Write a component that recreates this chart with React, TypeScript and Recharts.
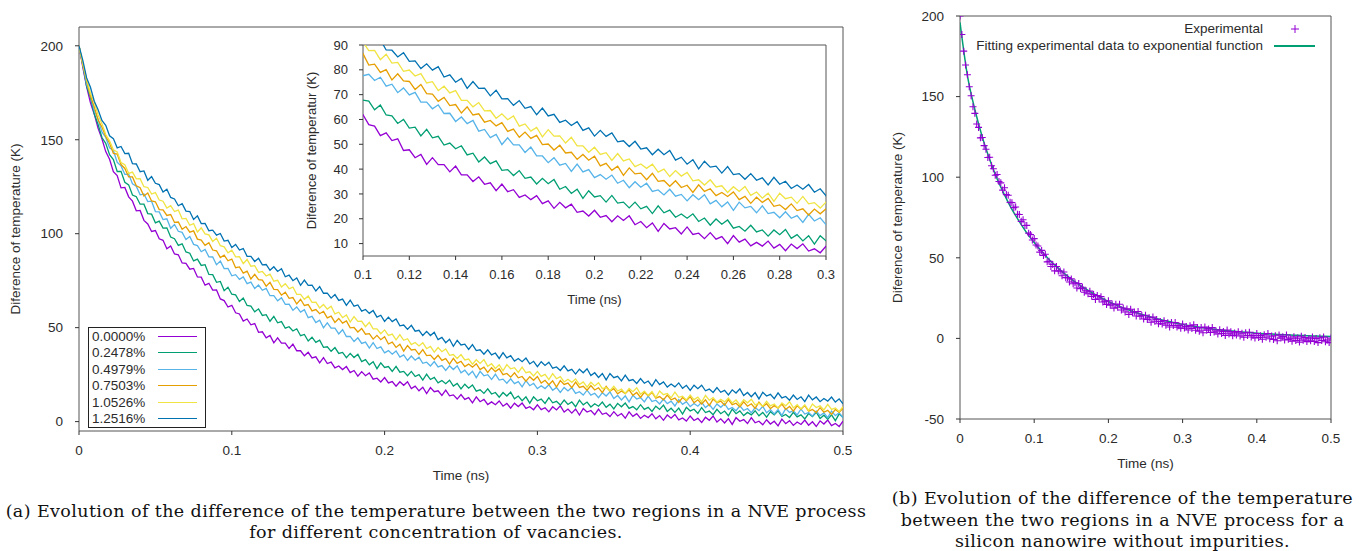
import React from "react";
import {
  LineChart,
  ComposedChart,
  Line,
  Scatter,
  XAxis,
  YAxis,
  ReferenceArea,
  Legend,
} from "recharts";

// Time (ns), one sample every 0.0025 ns
const time = [
  0, 0.0025, 0.005, 0.0075, 0.01, 0.0125, 0.015, 0.0175, 0.02, 0.0225, 0.025, 0.0275, 0.03, 0.0325, 0.035, 0.0375, 0.04, 0.0425, 0.045, 0.0475,
  0.05, 0.0525, 0.055, 0.0575, 0.06, 0.0625, 0.065, 0.0675, 0.07, 0.0725, 0.075, 0.0775, 0.08, 0.0825, 0.085, 0.0875, 0.09, 0.0925, 0.095, 0.0975,
  0.1, 0.1025, 0.105, 0.1075, 0.11, 0.1125, 0.115, 0.1175, 0.12, 0.1225, 0.125, 0.1275, 0.13, 0.1325, 0.135, 0.1375, 0.14, 0.1425, 0.145, 0.1475,
  0.15, 0.1525, 0.155, 0.1575, 0.16, 0.1625, 0.165, 0.1675, 0.17, 0.1725, 0.175, 0.1775, 0.18, 0.1825, 0.185, 0.1875, 0.19, 0.1925, 0.195, 0.1975,
  0.2, 0.2025, 0.205, 0.2075, 0.21, 0.2125, 0.215, 0.2175, 0.22, 0.2225, 0.225, 0.2275, 0.23, 0.2325, 0.235, 0.2375, 0.24, 0.2425, 0.245, 0.2475,
  0.25, 0.2525, 0.255, 0.2575, 0.26, 0.2625, 0.265, 0.2675, 0.27, 0.2725, 0.275, 0.2775, 0.28, 0.2825, 0.285, 0.2875, 0.29, 0.2925, 0.295, 0.2975,
  0.3, 0.3025, 0.305, 0.3075, 0.31, 0.3125, 0.315, 0.3175, 0.32, 0.3225, 0.325, 0.3275, 0.33, 0.3325, 0.335, 0.3375, 0.34, 0.3425, 0.345, 0.3475,
  0.35, 0.3525, 0.355, 0.3575, 0.36, 0.3625, 0.365, 0.3675, 0.37, 0.3725, 0.375, 0.3775, 0.38, 0.3825, 0.385, 0.3875, 0.39, 0.3925, 0.395, 0.3975,
  0.4, 0.4025, 0.405, 0.4075, 0.41, 0.4125, 0.415, 0.4175, 0.42, 0.4225, 0.425, 0.4275, 0.43, 0.4325, 0.435, 0.4375, 0.44, 0.4425, 0.445, 0.4475,
  0.45, 0.4525, 0.455, 0.4575, 0.46, 0.4625, 0.465, 0.4675, 0.47, 0.4725, 0.475, 0.4775, 0.48, 0.4825, 0.485, 0.4875, 0.49, 0.4925, 0.495, 0.4975,
  0.5,
];

// temperature difference (K) for each vacancy concentration
const vac0000 = [
  200, 188.5, 178.2, 169.6, 163.6, 156.1, 150.5, 143.7, 139.6, 133, 130.9, 124.4, 124.6, 119.6, 117.3, 112.2, 112.4, 107.1, 105.2, 101.2,
  101.7, 97.3, 96.5, 92, 93.5, 89.2, 88.8, 84.4, 84.2, 81.1, 81.5, 77, 76.9, 72.6, 73.6, 70, 70.1, 65.3, 64.4, 61,
  61.9, 57.9, 57.3, 53.5, 54.6, 51.5, 52.2, 47.5, 47.8, 44.6, 45.9, 41.9, 44.6, 41.8, 41.8, 38.9, 41.2, 37.7, 37.7, 35,
  36.9, 33.9, 34.5, 31.3, 34, 30.9, 31.7, 28.6, 29.6, 27.7, 29.3, 26.1, 27.2, 24.2, 26.6, 24.4, 25.9, 22.6, 23.1, 21.1,
  23.4, 20.6, 21.3, 18.8, 21.2, 19.3, 21.2, 17.6, 18.9, 16.4, 18.3, 14.9, 18.1, 15.9, 16.4, 13.9, 16.7, 13.7, 14.2, 12,
  14.4, 11.8, 12.8, 10, 13.2, 10.6, 11.8, 9.1, 10.5, 9, 11, 8.2, 9.7, 7.1, 9.8, 8, 9.9, 7, 7.9, 6.3,
  8.9, 6.4, 7.4, 5.2, 7.9, 6.2, 8.4, 5.1, 6.7, 4.5, 6.7, 3.5, 7, 5.1, 5.9, 3.7, 6.7, 3.9, 4.6, 2.7,
  5.3, 3, 4.3, 1.8, 5.2, 2.8, 4.2, 1.7, 3.4, 2.1, 4.2, 1.5, 3.2, 0.7, 3.5, 1.8, 3.8, 0.9, 1.9, 0.3,
  3, 0.6, 1.7, -0.5, 2.3, 0.7, 3, -0.2, 1.5, -0.7, 1.6, -1.5, 2.1, 0.2, 1.1, -1, 2.1, -0.6, 0.2, -1.7,
  1, -1.3, 0.2, -2.3, 1.3, -1.1, 0.5, -2, -0.2, -1.5, 0.8, -1.9, -0.1, -2.6, 0.4, -1.3, 0.8, -2.1, -1, -2.6,
  0.2,
];
const vac2478 = [
  200, 189.9, 178.4, 172.5, 163.7, 158.1, 151.2, 148.1, 142, 139.5, 133.1, 133.2, 127.4, 126, 120.6, 119.7, 115.7, 115.7, 110.7, 110.4,
  105.8, 106.7, 103, 103.1, 98.2, 97.3, 93.8, 94.6, 90.3, 89.6, 85.5, 86.5, 83.1, 83.5, 78.3, 78.2, 74.1, 74.6, 69.7, 71.5,
  67.8, 67.4, 63.9, 65.8, 61.8, 61.5, 58.4, 60, 56.5, 56.9, 53.4, 56, 52.6, 53.2, 49.7, 50.5, 48.2, 49.4, 45.7, 46.4,
  42.9, 44.9, 42.2, 43.3, 39.5, 39.8, 37.4, 39.4, 36.3, 36.8, 34, 36.3, 34.1, 35.8, 31.9, 33, 30.2, 31.9, 28.2, 31.3,
  28.8, 29.3, 26.7, 29.4, 26.3, 26.7, 24.4, 26.7, 24, 25, 22.1, 25.2, 22.4, 23.5, 20.6, 21.9, 20.2, 22, 18.9, 20.3,
  17.4, 19.9, 17.8, 19.5, 16.2, 16.9, 15, 17.4, 14.7, 15.5, 13, 15.5, 13.6, 15.7, 12.1, 13.6, 11.1, 13.2, 9.8, 13.2,
  11.1, 12, 9.7, 12.8, 10, 10.8, 8.8, 11.5, 9.1, 10.5, 7.9, 11.4, 8.9, 10.4, 7.8, 9.5, 8.2, 10.4, 7.6, 9.3,
  6.8, 9.7, 7.9, 9.9, 7, 8, 6.3, 9, 6.5, 7.6, 5.4, 8.2, 6.5, 8.8, 5.4, 7.1, 4.9, 7.2, 4, 7.6,
  5.7, 6.6, 4.4, 7.5, 4.8, 5.6, 3.7, 6.5, 4.2, 5.6, 3.1, 6.6, 4.2, 5.7, 3.2, 4.9, 3.6, 5.8, 3.1, 4.9,
  2.4, 5.3, 3.6, 5.7, 2.8, 3.8, 2.2, 4.9, 2.5, 3.6, 1.4, 4.3, 2.7, 5, 1.7, 3.4, 1.2, 3.6, 0.5, 4.1,
  2.2,
];
const vac4979 = [
  200, 190.2, 179.6, 173.8, 165.5, 160.9, 154.2, 151.2, 145.7, 144.3, 138, 136.1, 131.6, 131.7, 126.6, 125.3, 120.7, 121.1, 117.1, 117.3,
  111.8, 111.6, 107.5, 107.9, 102.9, 104.9, 101.3, 100.7, 96.9, 98.5, 94.3, 93.7, 90.4, 91.6, 87.7, 87.6, 83.5, 85.4, 81.4, 81.5,
  77.6, 78.2, 75.7, 77, 73.4, 74.2, 70.8, 72.7, 69.9, 70.9, 67, 67, 64.3, 65.9, 62.4, 62.5, 59.2, 61, 58.3, 59.6,
  55.3, 56, 52.7, 54, 49.9, 52.6, 49.8, 49.8, 46.7, 48.9, 45.3, 45.3, 42.6, 44.6, 41.6, 42.3, 39.1, 42, 38.9, 39.8,
  36.6, 37.8, 35.9, 37.6, 34.3, 35.5, 32.5, 34.9, 32.7, 34.3, 31, 31.6, 29.6, 31.9, 29.1, 29.8, 27.2, 29.7, 27.7, 29.7,
  26, 27.4, 24.8, 26.8, 23.4, 26.7, 24.4, 25, 22.4, 25.2, 22.1, 22.6, 20.4, 22.8, 20.2, 21.3, 18.5, 21.8, 19.1, 20.4,
  17.6, 19.1, 17.6, 19.6, 16.7, 18.2, 15.5, 18.2, 16.3, 18.1, 15, 15.9, 14.1, 16.7, 14.1, 15.1, 12.7, 15.4, 13.6, 15.8,
  12.3, 13.9, 11.5, 13.7, 10.5, 14, 12, 12.8, 10.5, 13.5, 10.7, 11.4, 9.4, 12, 9.6, 10.9, 8.3, 11.7, 9.2, 10.6,
  8, 9.6, 8.2, 10.3, 7.5, 9.1, 6.5, 9.4, 7.6, 9.5, 6.5, 7.5, 5.8, 8.4, 5.9, 7, 4.7, 7.5, 5.8, 8.1,
  4.7, 6.4, 4.1, 6.4, 3.3, 6.9, 4.9, 5.8, 3.6, 6.7, 4, 4.8, 2.9, 5.6, 3.2, 4.6, 2.1, 5.6, 3.2, 4.7,
  2.2,
];
const vac7503 = [
  200, 189.9, 181.3, 173.3, 167.5, 160.5, 156.8, 151.7, 148.3, 142.7, 142.4, 136.8, 134.7, 130.2, 130.2, 125.5, 124.5, 120.1, 121.7, 117.4,
  117, 112.8, 112.7, 109.7, 110.2, 106, 106.2, 102.3, 103.8, 100.8, 101.5, 97.1, 96.6, 93.8, 95.2, 91.3, 90.9, 87.3, 88.6, 85.6,
  86.5, 81.9, 82.3, 79, 80.1, 75.9, 78.4, 75.5, 75.3, 72.1, 74.1, 70.4, 70.2, 67.3, 68.9, 65.6, 66, 62.6, 65.1, 61.8,
  62.3, 58.9, 59.6, 57.4, 58.7, 55.2, 56.1, 52.8, 54.9, 52.4, 53.6, 49.9, 50.1, 47.7, 49.6, 46.5, 46.8, 43.9, 45.9, 43.6,
  45.2, 41.3, 42.3, 39.5, 41.2, 37.5, 40.5, 38.1, 38.4, 35.7, 38.3, 35.1, 35.4, 33.1, 35.3, 32.6, 33.5, 30.6, 33.7, 31,
  32.1, 29.3, 30.6, 29, 30.8, 27.7, 29, 26.2, 28.7, 26.6, 28.2, 25, 25.6, 23.7, 26, 23.3, 24, 21.5, 23.9, 22,
  24, 20.5, 22, 19.6, 21.7, 18.4, 21.8, 19.8, 20.5, 18.1, 21, 18.2, 18.8, 16.7, 19.2, 16.8, 18, 15.4, 18.7, 16.2,
  17.5, 14.8, 16.3, 14.9, 16.9, 14, 15.5, 12.9, 15.6, 13.7, 15.5, 12.5, 13.3, 11.6, 14.1, 11.6, 12.5, 10.2, 12.8, 11.1,
  13.3, 10, 11.6, 9.4, 11.6, 8.5, 12, 10.1, 10.9, 8.7, 11.7, 9, 9.8, 7.9, 10.5, 8.2, 9.5, 7, 10.4, 8,
  9.5, 6.9, 8.5, 7.2, 9.3, 6.5, 8.1, 5.6, 8.4, 6.6, 8.5, 5.6, 6.5, 4.8, 7.4, 5, 6, 3.8, 6.5, 4.9,
  7.1,
];
const vac10526 = [
  200, 190.5, 182.3, 174.6, 169.9, 163.2, 158.5, 152.8, 149.4, 144.7, 143.5, 137.9, 136.7, 132.1, 132.8, 129.2, 129.3, 125, 124.6, 121.1,
  121.9, 117.9, 117.3, 113.6, 114.9, 111.8, 112.6, 107.9, 108.1, 104.5, 105.4, 100.9, 103.1, 99.9, 99.4, 95.9, 97.6, 93.6, 93, 89.8,
  91.2, 87.7, 87.8, 84.1, 86.3, 82.7, 83, 79.4, 79.9, 77.5, 78.5, 74.7, 75.2, 71.6, 73.4, 70.7, 71.6, 67.7, 67.7, 65.1,
  66.8, 63.5, 63.6, 60.5, 62.3, 59.9, 61.4, 57.3, 58.2, 55.3, 56.8, 53, 55.9, 53.3, 53.4, 50.5, 52.8, 49.4, 49.4, 46.8,
  48.8, 45.9, 46.6, 43.5, 46.3, 43.3, 44.1, 41, 42.1, 40.3, 42, 38.8, 40, 37, 39.4, 37.2, 38.7, 35.3, 35.7, 33.6,
  35.7, 32.8, 33.3, 30.6, 32.9, 31, 33, 29.4, 30.8, 28.3, 30.3, 27, 30.3, 28.1, 28.7, 26.2, 29, 26, 26.5, 24.3,
  26.7, 24.1, 25.1, 22.3, 25.5, 22.8, 23.9, 21.1, 22.5, 20.9, 22.7, 19.7, 21.1, 18.3, 20.9, 19, 20.7, 17.5, 18.2, 16.4,
  18.8, 16.3, 17.3, 15, 17.6, 15.9, 18, 14.6, 16.2, 13.9, 16, 12.8, 16.3, 14.3, 15, 12.7, 15.7, 12.9, 13.5, 11.5,
  14.1, 11.7, 13, 10.5, 13.9, 11.4, 12.8, 10.3, 11.9, 10.5, 12.6, 9.9, 11.5, 8.9, 11.7, 10, 11.9, 8.9, 9.8, 8.2,
  10.8, 8.4, 9.4, 7.2, 10, 8.4, 10.6, 7.3, 9, 6.8, 9, 5.9, 9.4, 7.5, 8.4, 6.2, 9.2, 6.5, 7.3, 5.4,
  8,
];
const vac12516 = [
  200, 192.2, 182.9, 177.9, 170.5, 166, 160.3, 157.7, 152.1, 150.6, 145.7, 146.4, 142.6, 142.8, 137.3, 137.1, 133, 133.4, 128.4, 130.4,
  126.8, 126.1, 122.2, 123.7, 119.3, 118.5, 114.9, 116, 112, 111.8, 107.6, 109.5, 105.4, 105.5, 101.6, 101.9, 99.2, 100.1, 96.1, 96.5,
  92.6, 94.3, 91.3, 92.1, 88, 87.9, 85.2, 86.9, 83.4, 83.6, 80.5, 82.4, 79.9, 81.3, 77.1, 78, 75, 76.5, 72.5, 75.3,
  72.5, 72.6, 69.5, 71.8, 68.3, 68.4, 65.7, 67.6, 64.5, 65.2, 61.9, 64.6, 61.4, 62.1, 58.8, 59.7, 57.6, 59.1, 55.6, 56.6,
  53.3, 55.6, 53.2, 54.6, 51, 51.4, 49.1, 51.2, 48.1, 48.6, 45.8, 48, 45.8, 47.5, 43.6, 44.8, 42, 43.8, 40.1, 43.2,
  40.8, 41.2, 38.4, 41, 37.8, 38.2, 35.9, 38.2, 35.5, 36.5, 33.6, 36.7, 33.9, 35.1, 32.2, 33.6, 31.9, 33.8, 30.7, 32.1,
  29.3, 31.9, 29.9, 31.6, 28.4, 29.1, 27.2, 29.7, 27, 27.8, 25.3, 27.9, 26, 28.1, 24.5, 26, 23.5, 25.6, 22.2, 25.6,
  23.4, 24.1, 21.7, 24.7, 21.8, 22.4, 20.3, 22.9, 20.4, 21.6, 18.9, 22.3, 19.7, 21.1, 18.4, 20, 18.5, 20.6, 17.7, 19.3,
  16.6, 19.4, 17.5, 19.4, 16.4, 17.3, 15.5, 18.1, 15.6, 16.6, 14.2, 16.9, 15.2, 17.4, 13.9, 15.5, 13.2, 15.4, 12.1, 15.6,
  13.6, 14.5, 12.2, 15.3, 12.6, 13.4, 11.4, 14.1, 11.8, 13.2, 10.6, 14.1, 11.6, 13.1, 10.6, 12.3, 10.9, 13.1, 10.4, 12.1,
  9.5,
];

// exponential fit shown in panel (b), one value every 0.01 ns
const fitTime = [
  0, 0.01, 0.02, 0.03, 0.04, 0.05, 0.06, 0.07, 0.08, 0.09,
  0.1, 0.11, 0.12, 0.13, 0.14, 0.15, 0.16, 0.17, 0.18, 0.19,
  0.2, 0.21, 0.22, 0.23, 0.24, 0.25, 0.26, 0.27, 0.28, 0.29,
  0.3, 0.31, 0.32, 0.33, 0.34, 0.35, 0.36, 0.37, 0.38, 0.39,
  0.4, 0.41, 0.42, 0.43, 0.44, 0.45, 0.46, 0.47, 0.48, 0.49,
  0.5,
];
const fitValues = [
  196, 163, 142, 125, 111, 99, 89, 80, 72.5, 65.5,
  59.5, 54, 49, 44.5, 40.5, 36.8, 33.5, 30.5, 27.7, 25.2,
  22.9, 20.8, 18.9, 17.2, 15.6, 14.2, 12.9, 11.7, 10.6, 9.6,
  8.7, 7.9, 7.2, 6.5, 5.9, 5.3, 4.8, 4.4, 4.0, 3.6,
  3.2, 2.9, 2.7, 2.4, 2.2, 2.0, 1.8, 1.6, 1.5, 1.3,
  1.2,
];

const seriesNames = ["0.0000%", "0.2478%", "0.4979%", "0.7503%", "1.0526%", "1.2516%"];
const seriesColors = ["#9400D3", "#009E73", "#56B4E9", "#E69F00", "#F0E442", "#0072B2"];
const seriesKeys = ["s0", "s1", "s2", "s3", "s4", "s5"];

const mainTicksX = [0, 0.1, 0.2, 0.3, 0.4, 0.5];
const mainTicksY = [0, 50, 100, 150, 200];
const insetTicksX = [0.1, 0.12, 0.14, 0.16, 0.18, 0.2, 0.22, 0.24, 0.26, 0.28, 0.3];
const insetTicksY = [10, 20, 30, 40, 50, 60, 70, 80, 90];
const fitTicksY = [-50, 0, 50, 100, 150, 200];

const rows = time.map((t, i) => ({
  t,
  s0: vac0000[i],
  s1: vac2478[i],
  s2: vac4979[i],
  s3: vac7503[i],
  s4: vac10526[i],
  s5: vac12516[i],
}));
const expRows = time.map((t, i) => ({ t, v: vac0000[i] }));
const fitRows = fitTime.map((t, i) => ({ t, v: fitValues[i] }));

const SANS = "'Liberation Sans', Arial, sans-serif";
const SERIF = "'DejaVu Serif', 'Liberation Serif', serif";
const INK = "#2b2b2b";
const tickStyle = { fill: INK, fontSize: 13.5, fontFamily: SANS };
const insetTick = { fill: INK, fontSize: 13, fontFamily: SANS };
const titleProps = { fill: INK, fontSize: 13.5, fontFamily: SANS };

function VacancyLegend(props: any) {
  const items = props.payload || [];
  return (
    <div
      style={{
        border: "1px solid #222",
        background: "#fff",
        padding: "0 8px 0 3px",
        boxSizing: "border-box",
        width: 118,
        fontFamily: SANS,
      }}
    >
      {items.map((item: any) => (
        <div
          key={item.value}
          style={{ display: "flex", alignItems: "center", height: 16.5, fontSize: 13.5, color: INK }}
        >
          <span style={{ flex: 1 }}>{item.value}</span>
          <span style={{ display: "inline-block", width: 39, borderTop: `1.5px solid ${item.color}` }} />
        </div>
      ))}
    </div>
  );
}

function FitLegend(props: any) {
  const items = props.payload || [];
  return (
    <div style={{ width: 380, fontFamily: SANS }}>
      {items.map((item: any) => (
        <div
          key={item.value}
          style={{
            display: "flex",
            justifyContent: "flex-end",
            alignItems: "center",
            height: 17,
            fontSize: 13.5,
            color: INK,
          }}
        >
          <span>{item.value}</span>
          <span style={{ width: 41, marginLeft: 11, display: "flex", justifyContent: "center" }}>
            {item.type === "cross" ? (
              <svg width={8} height={8}>
                <path d="M0,4h8M4,0v8" stroke={item.color} strokeWidth={1} />
              </svg>
            ) : (
              <span style={{ display: "inline-block", width: 41, borderTop: `2px solid ${item.color}` }} />
            )}
          </span>
        </div>
      ))}
    </div>
  );
}

// "+" point marker, like gnuplot's default point type
function PlusMark(props: any) {
  const { cx, cy } = props;
  if (cx == null || cy == null) return null;
  return <path d={`M${cx - 3.5},${cy}h7M${cx},${cy - 3.5}v7`} stroke="#9400D3" strokeWidth={1.1} fill="none" />;
}

export default function App() {
  return (
    <div
      style={{
        position: "relative",
        width: 1365,
        height: 551,
        background: "#fff",
        overflow: "hidden",
        fontFamily: SANS,
      }}
    >
      <style>{"body{margin:0}"}</style>

      {/* (a) main panel */}
      <div style={{ position: "absolute", left: 0, top: 0 }}>
        <LineChart width={860} height={490} data={rows} margin={{ top: 27, right: 17, left: 0, bottom: 29 }}>
          <XAxis
            dataKey="t"
            type="number"
            domain={[0, 0.5]}
            allowDataOverflow
            ticks={mainTicksX}
            tick={tickStyle}
            tickSize={4}
            tickMargin={10}
            tickLine={{ stroke: "#333" }}
            axisLine={false}
            height={30}
            label={{ value: "Time (ns)", position: "bottom", offset: 9, ...titleProps }}
          />
          <YAxis
            type="number"
            domain={[-5, 210]}
            allowDataOverflow
            ticks={mainTicksY}
            tick={tickStyle}
            tickSize={4}
            tickMargin={12}
            tickLine={{ stroke: "#333" }}
            axisLine={false}
            width={79}
            label={{
              value: "Diference of temperature (K)",
              angle: -90,
              position: "insideLeft",
              offset: 15,
              style: { textAnchor: "middle" },
              ...titleProps,
            }}
          />
          <ReferenceArea x1={0} x2={0.5} y1={-5} y2={210} fill="none" stroke="#555" strokeWidth={1} ifOverflow="visible" />
          {seriesKeys.map((k, i) => (
            <Line
              key={k}
              type="linear"
              dataKey={k}
              name={seriesNames[i]}
              stroke={seriesColors[i]}
              strokeWidth={1.3}
              dot={false}
              isAnimationActive={false}
            />
          ))}
          <Legend
            layout="vertical"
            align="center"
            verticalAlign="middle"
            content={<VacancyLegend />}
            wrapperStyle={{ left: 88, top: 327, width: 118 }}
          />
        </LineChart>
      </div>

      {/* (a) inset: zoom on 0.1 - 0.3 ns */}
      <div style={{ position: "absolute", left: 290, top: 30 }}>
        <LineChart width={545} height={290} data={rows} margin={{ top: 15, right: 9, left: 0, bottom: 34 }}>
          <XAxis
            dataKey="t"
            type="number"
            domain={[0.1, 0.3]}
            allowDataOverflow
            ticks={insetTicksX}
            tick={insetTick}
            tickSize={4}
            tickMargin={10}
            tickLine={{ stroke: "#333" }}
            axisLine={false}
            height={30}
            label={{ value: "Time (ns)", position: "bottom", offset: 9, ...titleProps, fontSize: 13 }}
          />
          <YAxis
            type="number"
            domain={[5, 90]}
            allowDataOverflow
            ticks={insetTicksY}
            tick={insetTick}
            tickSize={4}
            tickMargin={11}
            tickLine={{ stroke: "#333" }}
            axisLine={false}
            width={73}
            label={{
              value: "Diference of temperatur (K)",
              angle: -90,
              position: "insideLeft",
              offset: 21,
              style: { textAnchor: "middle" },
              ...titleProps,
              fontSize: 13,
            }}
          />
          <ReferenceArea x1={0.1} x2={0.3} y1={5} y2={90} fill="none" stroke="#555" strokeWidth={1} ifOverflow="visible" />
          {seriesKeys.map((k, i) => (
            <Line
              key={k}
              type="linear"
              dataKey={k}
              name={seriesNames[i]}
              stroke={seriesColors[i]}
              strokeWidth={1.3}
              dot={false}
              isAnimationActive={false}
            />
          ))}
        </LineChart>
      </div>

      {/* (b) panel */}
      <div style={{ position: "absolute", left: 880, top: 0 }}>
        <ComposedChart width={485} height={480} margin={{ top: 16, right: 34, left: 0, bottom: 31 }}>
          <XAxis
            dataKey="t"
            type="number"
            domain={[0, 0.5]}
            allowDataOverflow
            ticks={mainTicksX}
            tick={tickStyle}
            tickSize={4}
            tickMargin={10}
            tickLine={{ stroke: "#333" }}
            axisLine={false}
            height={30}
            label={{ value: "Time (ns)", position: "bottom", offset: 9, ...titleProps }}
          />
          <YAxis
            type="number"
            domain={[-50, 200]}
            allowDataOverflow
            ticks={fitTicksY}
            tick={tickStyle}
            tickSize={4}
            tickMargin={12}
            tickLine={{ stroke: "#333" }}
            axisLine={false}
            width={80}
            label={{
              value: "Diference of temperature (K)",
              angle: -90,
              position: "insideLeft",
              offset: 17,
              style: { textAnchor: "middle" },
              ...titleProps,
            }}
          />
          <ReferenceArea x1={0} x2={0.5} y1={-50} y2={200} fill="none" stroke="#555" strokeWidth={1} ifOverflow="visible" />
          <Scatter
            name="Experimental"
            data={expRows}
            dataKey="v"
            fill="#9400D3"
            legendType="cross"
            shape={<PlusMark />}
            isAnimationActive={false}
          />
          <Line
            name="Fitting experimental data to exponential function"
            data={fitRows}
            dataKey="v"
            type="monotone"
            stroke="#009E73"
            strokeWidth={1.5}
            dot={false}
            isAnimationActive={false}
          />
          <Legend
            layout="vertical"
            align="center"
            verticalAlign="middle"
            content={<FitLegend />}
            wrapperStyle={{ left: 55, top: 20, width: 380 }}
          />
        </ComposedChart>
      </div>

      {/* captions */}
      <div
        style={{
          position: "absolute",
          left: 0,
          top: 501,
          width: 872,
          textAlign: "center",
          fontFamily: SERIF,
          fontSize: 17.5,
          letterSpacing: 0.4,
          lineHeight: "21px",
          whiteSpace: "nowrap",
          color: "#111",
        }}
      >
        (a) Evolution of the difference of the temperature between the two regions in a NVE process
        <br />
        for different concentration of vacancies.
      </div>
      <div
        style={{
          position: "absolute",
          left: 880,
          top: 488,
          width: 485,
          textAlign: "center",
          fontFamily: SERIF,
          fontSize: 17.5,
          letterSpacing: 0.4,
          lineHeight: "21.5px",
          whiteSpace: "nowrap",
          color: "#111",
        }}
      >
        (b) Evolution of the difference of the temperature
        <br />
        between the two regions in a NVE process for a
        <br />
        silicon nanowire without impurities.
      </div>
    </div>
  );
}
